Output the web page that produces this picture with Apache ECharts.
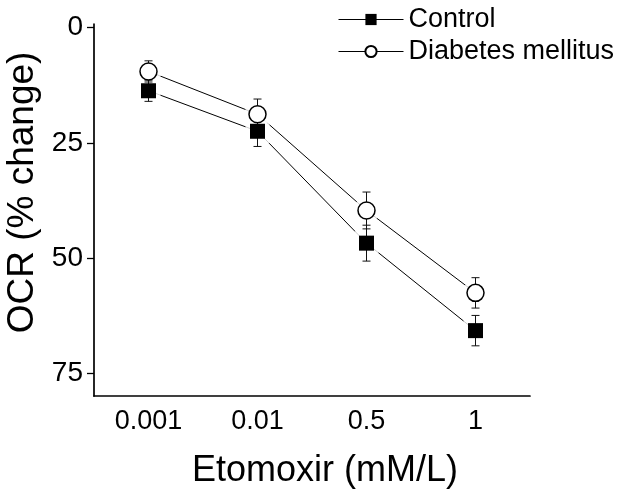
<!DOCTYPE html>
<html><head><meta charset="utf-8">
<script src="https://cdn.jsdelivr.net/npm/echarts@6/dist/echarts.min.js"></script>
<style>html,body{margin:0;padding:0;background:#fff}#c{width:629px;height:498px}</style>
</head><body><div id="c"></div>
<script>
const categories = ['0.001', '0.01', '0.5', '1'];
const controlMean = [13.7, 22.5, 46.8, 65.8];
const controlErr = [2.3, 3.3, 3.9, 3.3];
const diabetesMean = [9.5, 18.8, 39.7, 57.6];
const diabetesErr = [2.3, 3.3, 4.0, 3.3];
const yTicks = [0, 25, 50, 75];

const FONT = 'Liberation Sans';
const chart = echarts.init(document.getElementById('c'), null, {renderer: 'canvas'});

function errData(mean, err) {
  return mean.map((m, i) => [i, m - err[i], m + err[i]]);
}
function errRender(params, api) {
  const x = api.value(0);
  const pLo = api.coord([x, api.value(1)]);
  const pHi = api.coord([x, api.value(2)]);
  const w = 4;
  const st = {stroke: '#111', lineWidth: 1};
  return {type: 'group', children: [
    {type: 'line', shape: {x1: pLo[0], y1: pLo[1], x2: pHi[0], y2: pHi[1]}, style: st},
    {type: 'line', shape: {x1: pLo[0] - w, y1: pLo[1], x2: pLo[0] + w, y2: pLo[1]}, style: st},
    {type: 'line', shape: {x1: pHi[0] - w, y1: pHi[1], x2: pHi[0] + w, y2: pHi[1]}, style: st}
  ]};
}

const option = {
  animation: false,
  backgroundColor: '#fff',
  textStyle: {fontFamily: FONT, color: '#000'},
  grid: {left: 94, right: 99, top: 24, bottom: 102, outerBoundsMode: 'none', containLabel: false},
  legend: {
    data: ['Control', 'Diabetes mellitus'],
    orient: 'vertical',
    left: 338, top: 6, padding: 0,
    itemWidth: 65, itemHeight: 14, itemGap: 5,
    textStyle: {fontFamily: FONT, fontSize: 27, color: '#000'},
    lineStyle: {color: '#000', width: 1, opacity: 1}
  },
  xAxis: {
    type: 'category',
    position: 'bottom',
    data: categories,
    boundaryGap: true,
    name: 'Etomoxir (mM/L)',
    nameLocation: 'middle',
    nameGap: 57,
    nameTextStyle: {fontFamily: FONT, fontSize: 36, color: '#000', padding: [0, 0, 0, 26]},
    axisLine: {onZero: false, lineStyle: {color: '#000', width: 1.7}},
    axisTick: {alignWithLabel: true, length: 7, lineStyle: {color: '#000', width: 1.3}},
    axisLabel: {fontFamily: FONT, fontSize: 27, color: '#000', margin: 12},
    splitLine: {show: false}
  },
  yAxis: {
    type: 'value',
    inverse: true,
    min: -0.8, max: 80,
    name: 'OCR (% change)',
    nameLocation: 'middle',
    nameGap: 50,
    nameTextStyle: {fontFamily: FONT, fontSize: 37, color: '#000', padding: [0, 0, 0, 35]},
    axisLine: {show: true, onZero: false, lineStyle: {color: '#000', width: 1.7}},
    axisTick: {show: true, length: 7, customValues: yTicks, lineStyle: {color: '#000', width: 1.3}},
    axisLabel: {fontFamily: FONT, fontSize: 28, color: '#000', margin: 11, customValues: yTicks},
    splitLine: {show: false}
  },
  series: [
    {name: 'lineC', type: 'line', data: controlMean, symbol: 'none', z: 2, silent: true,
      lineStyle: {color: '#000', width: 1}},
    {name: 'lineD', type: 'line', data: diabetesMean, symbol: 'none', z: 2, silent: true,
      lineStyle: {color: '#000', width: 1}},
    {name: 'haloC', type: 'scatter', data: controlMean, symbol: 'rect', symbolSize: 24, z: 3, silent: true,
      itemStyle: {color: '#fff'}},
    {name: 'haloD', type: 'scatter', data: diabetesMean, symbol: 'circle', symbolSize: 26, z: 3, silent: true,
      itemStyle: {color: '#fff'}},
    {name: 'errC', type: 'custom', data: errData(controlMean, controlErr), renderItem: errRender, z: 4, silent: true,
      encode: {x: 0, y: [1, 2]}},
    {name: 'errD', type: 'custom', data: errData(diabetesMean, diabetesErr), renderItem: errRender, z: 4, silent: true,
      encode: {x: 0, y: [1, 2]}},
    {name: 'Control', type: 'line', data: controlMean, symbol: 'rect', symbolSize: 15, showSymbol: true, z: 5,
      itemStyle: {color: '#000'}, lineStyle: {opacity: 0}},
    {name: 'Diabetes mellitus', type: 'line', data: diabetesMean, symbol: 'circle', symbolSize: 17, showSymbol: true, z: 5,
      itemStyle: {color: '#fff', borderColor: '#000', borderWidth: 1.5}, lineStyle: {opacity: 0}}
  ]
};
chart.setOption(option);
</script>
</body></html>
